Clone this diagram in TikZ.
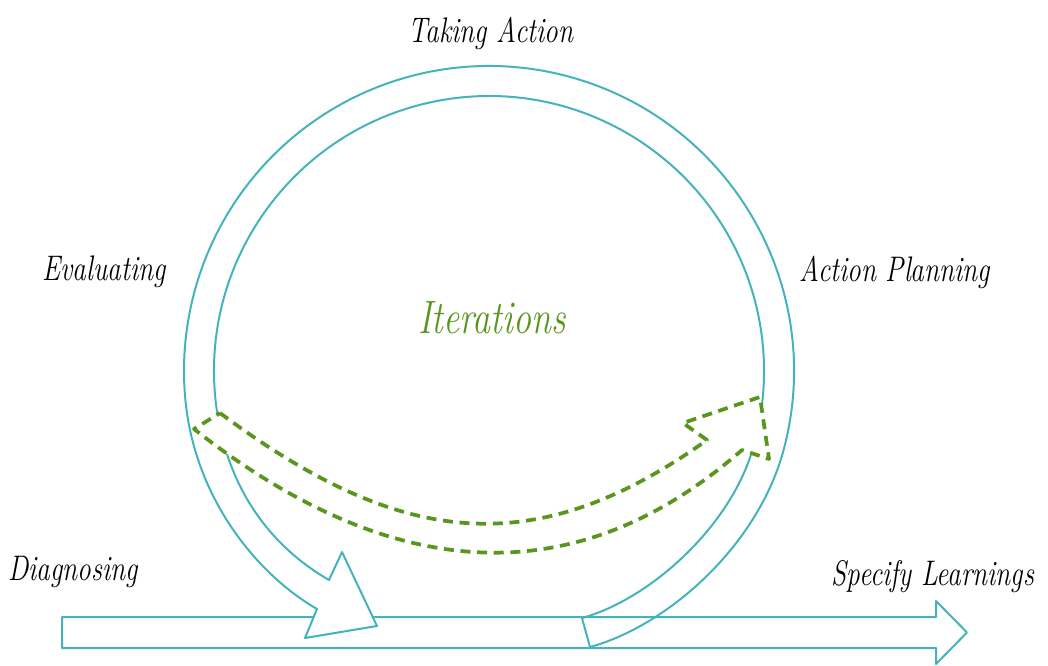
\documentclass[tikz,border=0pt]{standalone}
\usepackage{graphicx}
\definecolor{tealline}{HTML}{45B3BC}
\definecolor{dashgreen}{HTML}{5A961E}
\begin{document}
\begin{tikzpicture}[x=0.75pt,y=0.75pt,
  band/.style={draw=tealline,line width=1.5pt,line join=round},
  dsh/.style={draw=dashgreen,line width=2.8pt,dash pattern=on 7.5pt off 5pt,fill=white,line join=round},
  lbl/.style={font=\fontsize{20.5}{24}\selectfont\itshape,inner sep=0pt},
  iter/.style={font=\fontsize{27}{30}\selectfont\itshape,text=dashgreen,inner sep=0pt}]
\useasboundingbox (0,0) rectangle (1048,665);
% bottom arrow
\coordinate (s0) at (62,17);
\coordinate (s1) at (936,17);
\coordinate (s2) at (936,1);
\coordinate (stip) at (967,32.5);
\coordinate (s3) at (936,64);
\coordinate (s4) at (936,48);
\coordinate (s5) at (62,48);
\draw[band] (s0) -- (s1) -- (s2) -- (stip) -- (s3) -- (s4) -- (s5) -- cycle;
% loop
\coordinate (To) at (590,18);
\coordinate (Ti) at (582,47);
\coordinate (Hjo) at (317,56);
\coordinate (Ho) at (305,27);
\coordinate (Ht) at (377,39);
\coordinate (Hi) at (342,113);
\coordinate (Hji) at (329,85);
\fill[white] (Hjo) -- (Ho) -- (Ht) -- (Hi) -- (Hji) -- cycle;
\draw[band] (To) .. controls (667,39) and (757.7,118.5) .. (783.6,215.1)
  arc[start angle=-15,end angle=185,radius=305]
  .. controls (193.9,167.8) and (256.4,91) .. (Hjo) -- (Ho) -- (Ht) -- (Hi) -- (Hji)
  .. controls (260,125) and (228.6,187.1) .. (218.2,246.2)
  arc[start angle=190,end angle=-17,radius=275]
  .. controls (728.6,137) and (649.5,65.6) .. (Ti) -- cycle;
% dashed iteration arrow
\coordinate (U0) at (220,252);
\coordinate (U1) at (707,225);
\coordinate (DA) at (683,242);
\coordinate (DB) at (760,268);
\coordinate (DC) at (769,206);
\coordinate (L1) at (742,215);
\coordinate (L0) at (194,236);
\draw[dsh] (U0) .. controls (395,122) and (529.5,98.3) .. (U1) -- (DA) -- (DB) -- (DC) -- (L1)
  .. controls (565,60.4) and (379,91) .. (L0) -- cycle;
% labels
\node[lbl] (ta) at (491,632) {\scalebox{1}[1.3]{Taking Action}};
\node[lbl] (ev) at (104,393) {\scalebox{1}[1.3]{Evaluating}};
\node[lbl] (ap) at (895,393) {\scalebox{1}[1.3]{Action Planning}};
\node[iter] (it) at (492,347) {\scalebox{1}[1.3]{Iterations}};
\node[lbl] (dg) at (73,93) {\scalebox{1}[1.3]{Diagnosing}};
\node[lbl] (sl) at (933,88) {\scalebox{1}[1.3]{Specify Learnings}};
\end{tikzpicture}
\end{document}
